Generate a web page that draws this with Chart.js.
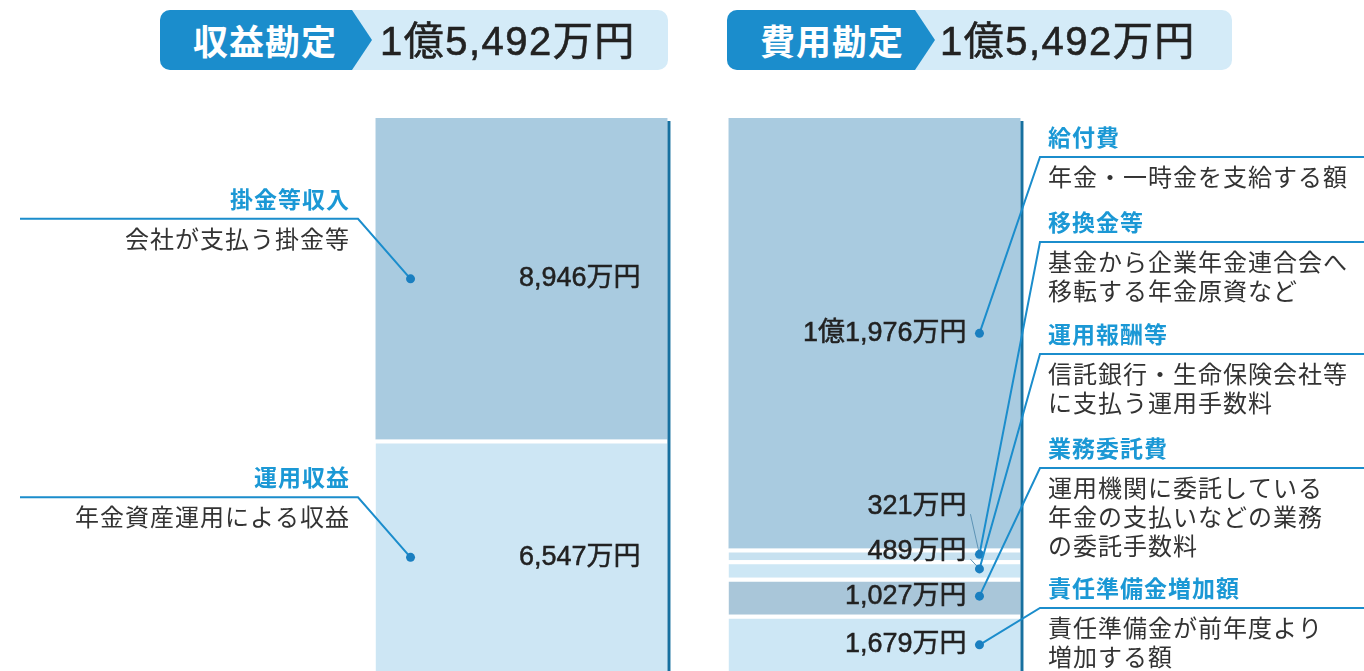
<!DOCTYPE html>
<html>
<head>
<meta charset="utf-8">
<script src="https://cdn.jsdelivr.net/npm/chart.js@4/dist/chart.umd.min.js"></script>
<style>
  body { margin: 0; background: #fff; overflow: hidden; font-family: "Noto Sans CJK JP", sans-serif; }
  #wrap { position: relative; width: 1364px; height: 671px; overflow: hidden; }
  #chart { position: absolute; left: 0; top: 0; }
  .head { position: absolute; top: 10px; height: 60px; border-radius: 10px; background: #d4ebf8; overflow: hidden; }
  .head .tag { position: absolute; left: 0; top: 0; height: 60px; background: #1b8dcc; color: #fff;
    font-family: "Noto Sans CJK JP", sans-serif; font-weight: bold; font-size: 35px; line-height: 60px;
    box-sizing: border-box; letter-spacing: 1px; }
  .head .amt { position: absolute; top: 1px; line-height: 60px; font-size: 40px; color: #222; letter-spacing: 1.5px;
    font-family: "Liberation Sans", "Noto Sans CJK JP", sans-serif; -webkit-text-stroke: 0.6px #222; }
</style>
</head>
<body>
<div id="wrap">
  <canvas id="chart" width="1364" height="680"></canvas>
</div>
<script>
const categories = ["収益勘定", "費用勘定"];
const totals = [15492, 15492];

const incomeItems = ["掛金等収入", "運用収益"];
const incomeValues = [8946, 6547];
const incomeNotes = [["会社が支払う掛金等"], ["年金資産運用による収益"]];

const expenseItems = ["給付費", "移換金等", "運用報酬等", "業務委託費", "責任準備金増加額"];
const expenseValues = [11976, 321, 489, 1027, 1679];
const expenseNotes = [
  ["年金・一時金を支給する額"],
  ["基金から企業年金連合会へ", "移転する年金原資など"],
  ["信託銀行・生命保険会社等", "に支払う運用手数料"],
  ["運用機関に委託している", "年金の支払いなどの業務", "の委託手数料"],
  ["責任準備金が前年度より", "増加する額"],
];

// styles
const incomeColors = ["#a9cbe0", "#cde6f4"];
const expenseColors = ["#a9cbe0", "#c7e1f0", "#cde7f5", "#a9c6d9", "#cde7f5"];
const noteLineY = [157, 242, 354, 468, 608];
const BLUE = "#1b8dcc";
const FONT = '"Noto Sans CJK JP", sans-serif';
const NUM_FONT = '"Liberation Sans", "Noto Sans CJK JP", sans-serif';

function fmt(v) {
  if (v >= 10000) {
    return Math.floor(v / 10000) + "億" + (v % 10000).toLocaleString("en-US") + "万円";
  }
  return v.toLocaleString("en-US") + "万円";
}

// header badges
const heads = [
  { left: 160, width: 508, tagW: 212, amtLeft: 220 },
  { left: 727, width: 505, tagW: 208, amtLeft: 213 },
];
heads.forEach((h, i) => {
  const box = document.createElement("div");
  box.className = "head";
  box.style.left = h.left + "px";
  box.style.width = h.width + "px";
  const tag = document.createElement("div");
  tag.className = "tag";
  tag.style.width = h.tagW + "px";
  tag.style.paddingLeft = "33px";
  tag.style.clipPath = `polygon(0 0, ${h.tagW - 20}px 0, ${h.tagW}px 50%, ${h.tagW - 20}px 100%, 0 100%)`;
  tag.textContent = categories[i];
  const amt = document.createElement("div");
  amt.className = "amt";
  amt.style.left = h.amtLeft + "px";
  amt.textContent = fmt(totals[i]);
  box.appendChild(tag);
  box.appendChild(amt);
  document.getElementById("wrap").appendChild(box);
});

const datasets = [];
function addSeries(items, values, colors, notes, side) {
  // first item sits on top of the stack, so push bottom-up
  for (let i = items.length - 1; i >= 0; i--) {
    const d = [null, null];
    d[side] = values[i];
    datasets.push({
      label: items[i],
      data: d,
      backgroundColor: colors[i],
      borderColor: "#fff",
      borderWidth: i === 0 ? 0 : { top: 4, left: 0, right: 0, bottom: 0 },
      borderSkipped: "start",
      side: side,
      idx: i,
      notes: notes[i],
    });
  }
}
addSeries(incomeItems, incomeValues, incomeColors, incomeNotes, 0);
addSeries(expenseItems, expenseValues, expenseColors, expenseNotes, 1);

const callouts = {
  id: "callouts",
  afterDatasetsDraw(chart) {
    const ctx = chart.ctx;
    const area = chart.chartArea;
    const segs = [[], []];
    chart.data.datasets.forEach((ds, di) => {
      const el = chart.getDatasetMeta(di).data[ds.side];
      segs[ds.side][ds.idx] = {
        top: el.y, bottom: el.base, mid: (el.y + el.base) / 2,
        left: el.x - el.width / 2, right: el.x + el.width / 2, ds: ds,
      };
    });

    ctx.save();
    // dark edge on the right side of each bar
    ctx.strokeStyle = "#17709f";
    ctx.lineWidth = 3;
    [0, 1].forEach((s) => {
      const x = segs[s][0].right + 1.5;
      ctx.beginPath();
      ctx.moveTo(x, area.top + 3);
      ctx.lineTo(x, area.bottom + 10);
      ctx.stroke();
    });

    function dot(x, y) {
      ctx.fillStyle = "#1a7fc0";
      ctx.beginPath();
      ctx.arc(x, y, 4.5, 0, Math.PI * 2);
      ctx.fill();
    }
    function valueText(t, x, y) {
      ctx.fillStyle = "#222";
      ctx.strokeStyle = "#222";
      ctx.lineWidth = 0.5;
      ctx.font = "27px " + NUM_FONT;
      ctx.textAlign = "right";
      ctx.textBaseline = "middle";
      ctx.letterSpacing = "0px";
      ctx.fillText(t, x, y);
      ctx.strokeText(t, x, y);
    }
    function noteText(title, lines, x, lineY, align) {
      ctx.textAlign = align;
      ctx.textBaseline = "middle";
      ctx.fillStyle = "#1b98d5";
      ctx.font = "bold 23px " + FONT;
      ctx.letterSpacing = "1px";
      ctx.fillText(title, x, lineY - 20);
      ctx.fillStyle = "#333";
      ctx.font = "24px " + FONT;
      lines.forEach((l, k) => ctx.fillText(l, x, lineY + 20 + k * 29));
    }

    // income side
    segs[0].forEach((s) => {
      const dx = s.left + 35;
      const lineY = s.mid - 60;
      ctx.strokeStyle = BLUE;
      ctx.lineWidth = 2;
      ctx.beginPath();
      ctx.moveTo(20, lineY);
      ctx.lineTo(358, lineY);
      ctx.lineTo(dx, s.mid);
      ctx.stroke();
      dot(dx, s.mid);
      valueText(fmt(s.ds.data[0]), s.right - 27, s.mid);
      noteText(s.ds.label, s.ds.notes, 350, lineY, "right");
    });

    // expense side: keep labels apart where segments are thin
    const ex = segs[1];
    const labelY = [];
    for (let i = ex.length - 1; i >= 0; i--) {
      labelY[i] = i === ex.length - 1 || i === 0 ? ex[i].mid : Math.min(ex[i].mid, labelY[i + 1] - 45);
    }
    ex.forEach((s, i) => {
      const dx = s.right - 41;
      const lineY = noteLineY[i];
      ctx.strokeStyle = BLUE;
      ctx.lineWidth = 2;
      ctx.beginPath();
      ctx.moveTo(1364, lineY);
      ctx.lineTo(1040, lineY);
      ctx.lineTo(dx, s.mid);
      ctx.stroke();
      if (Math.abs(labelY[i] - s.mid) > 3) {
        ctx.strokeStyle = "#5d93b5";
        ctx.lineWidth = 1;
        ctx.beginPath();
        ctx.moveTo(dx - 9, labelY[i] + 8);
        ctx.lineTo(dx, s.mid);
        ctx.stroke();
      }
      dot(dx, s.mid);
      valueText(fmt(s.ds.data[1]), dx - 13, labelY[i]);
      noteText(s.ds.label, s.ds.notes, 1048, lineY, "left");
    });
    ctx.restore();
  },
};

new Chart(document.getElementById("chart"), {
  type: "bar",
  data: { labels: categories, datasets: datasets },
  options: {
    responsive: false,
    animation: false,
    layout: { padding: { left: 345, right: 313, top: 118, bottom: 5 } },
    datasets: { bar: { categoryPercentage: 1, barPercentage: 0.827 } },
    scales: {
      x: { stacked: true, display: false },
      y: { stacked: true, display: false, min: 0, max: Math.max(
        incomeValues.reduce((a, b) => a + b, 0),
        expenseValues.reduce((a, b) => a + b, 0)) },
    },
    plugins: { legend: { display: false }, tooltip: { enabled: false } },
  },
  plugins: [callouts],
});
</script>
</body>
</html>
